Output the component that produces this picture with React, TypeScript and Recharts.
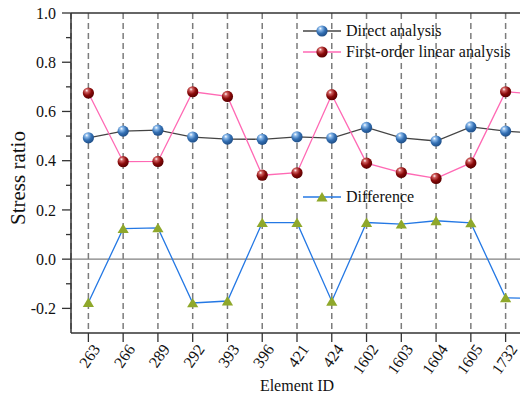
import React from 'react'
import { LineChart, Line, XAxis, YAxis, CartesianGrid, ReferenceLine, Legend } from 'recharts'

const FONT = '"Liberation Serif", "Times New Roman", serif'

const elementIds = ['263', '266', '289', '292', '393', '396', '421', '424', '1602', '1603', '1604', '1605', '1732']
// the 14th value of each series lies just past the right edge, only its line stub shows
const directAnalysis = [0.493, 0.52, 0.524, 0.496, 0.488, 0.487, 0.497, 0.492, 0.535, 0.493, 0.48, 0.537, 0.52, 0.51]
const linearAnalysis = [0.675, 0.396, 0.397, 0.68, 0.661, 0.341, 0.351, 0.668, 0.39, 0.352, 0.328, 0.391, 0.68, 0.67]
const difference = [-0.176, 0.124, 0.127, -0.178, -0.17, 0.148, 0.148, -0.171, 0.149, 0.142, 0.156, 0.147, -0.157, -0.16]
const yTicks = [-0.2, -0.1, 0, 0.1, 0.2, 0.3, 0.4, 0.5, 0.6, 0.7, 0.8, 0.9, 1.0]

const chartData = directAnalysis.map((v, i) => ({
  idx: i,
  direct: v,
  linear: linearAnalysis[i],
  diff: difference[i],
}))

const sphereDot = (gradId: string) => (props: any) => {
  const { cx, cy, index } = props
  if (cx == null || cy == null) return null
  return <circle key={`${gradId}-${index}`} cx={cx} cy={cy} r={5.6} fill={`url(#${gradId})`} />
}

const triangleDot = (props: any) => {
  const { cx, cy, index } = props
  if (cx == null || cy == null) return null
  return (
    <path
      key={`tri-${index}`}
      d={`M${cx},${cy - 5} L${cx + 5.6},${cy + 4.4} L${cx - 5.6},${cy + 4.4} Z`}
      fill="#8fa82b"
    />
  )
}

function YTick(props: any) {
  const { x, y, payload } = props
  const v = payload.value as number
  const major = Math.round(v * 10) % 2 === 0
  return (
    <g>
      <line x1={x - (major ? 9 : 5)} x2={x} y1={y} y2={y} stroke="#333" strokeWidth={1.3} />
      {major && (
        <text x={x - 15} y={y} dy="0.35em" textAnchor="end" fontSize={16} fontFamily={FONT} fill="#111">
          {v.toFixed(1)}
        </text>
      )}
    </g>
  )
}

function XTick(props: any) {
  const { x, payload } = props
  const label = elementIds[payload.value]
  if (label == null) return null
  const tx = x + 8
  const ty = 346
  return (
    <text
      x={tx}
      y={ty}
      dy="0.35em"
      textAnchor="end"
      transform={`rotate(-55, ${tx}, ${ty})`}
      fontSize={16}
      fontFamily={FONT}
      fill="#111"
    >
      {label}
    </text>
  )
}

function YLabel(props: any) {
  const { viewBox } = props
  const cx = viewBox.x + 18
  const cy = viewBox.y + viewBox.height / 2 + 5
  return (
    <text
      x={cx}
      y={cy}
      transform={`rotate(-90, ${cx}, ${cy})`}
      textAnchor="middle"
      dominantBaseline="central"
      fontSize={21}
      fontFamily={FONT}
      fill="#111"
    >
      Stress ratio
    </text>
  )
}

const legendRows: Record<string, { top: number; stroke: string; marker: string }> = {
  direct: { top: 31, stroke: '#444', marker: 'blueSphere' },
  linear: { top: 52, stroke: '#ff69b4', marker: 'redSphere' },
  diff: { top: 197, stroke: '#2478e4', marker: 'triangle' },
}

function renderLegend(props: any) {
  const payload = props.payload || []
  return (
    <div>
      {payload.map((entry: any) => {
        const row = legendRows[entry.dataKey]
        if (!row) return null
        return (
          <div
            key={entry.dataKey}
            style={{
              position: 'absolute',
              left: 303,
              top: row.top - 9,
              height: 18,
              display: 'flex',
              alignItems: 'center',
              whiteSpace: 'nowrap',
            }}
          >
            <svg width={38} height={14}>
              <line x1={0} x2={38} y1={7} y2={7} stroke={row.stroke} strokeWidth={1.3} />
              {row.marker === 'triangle' ? (
                <path d="M19,2 L24.6,11.4 L13.4,11.4 Z" fill="#8fa82b" />
              ) : (
                <circle cx={19} cy={7} r={5.6} fill={`url(#${row.marker})`} />
              )}
            </svg>
            <span style={{ marginLeft: 5, fontSize: 16, fontFamily: FONT, color: '#111', lineHeight: '18px' }}>
              {entry.value}
            </span>
          </div>
        )
      })}
    </div>
  )
}

export default function App() {
  return (
    <div style={{ position: 'fixed', left: 0, top: 0, width: 520, height: 394, overflow: 'hidden', background: '#fff' }}>
      <LineChart width={530} height={394} data={chartData} margin={{ top: 13, right: 7, bottom: 0, left: 0 }}>
        <defs>
          <radialGradient id="blueSphere" cx="38%" cy="32%" r="68%" fx="35%" fy="28%">
            <stop offset="0%" stopColor="#ffffff" />
            <stop offset="22%" stopColor="#8dbbeb" />
            <stop offset="60%" stopColor="#3470b4" />
            <stop offset="100%" stopColor="#1f4f88" />
          </radialGradient>
          <radialGradient id="redSphere" cx="38%" cy="32%" r="68%" fx="35%" fy="28%">
            <stop offset="0%" stopColor="#ffffff" />
            <stop offset="22%" stopColor="#d06060" />
            <stop offset="60%" stopColor="#8a0a0a" />
            <stop offset="100%" stopColor="#5a0000" />
          </radialGradient>
        </defs>
        <CartesianGrid horizontal={false} stroke="#7c7c7c" strokeWidth={1.5} strokeDasharray="6 4" />
        <XAxis
          dataKey="idx"
          type="number"
          domain={[-0.5, 12.5]}
          allowDataOverflow
          ticks={elementIds.map((_, i) => i)}
          interval={0}
          height={61}
          tickSize={9}
          tickMargin={0}
          tick={(p: any) => <XTick {...p} />}
          tickLine={{ stroke: '#333', strokeWidth: 1.3 }}
          axisLine={{ stroke: '#333', strokeWidth: 1.5 }}
          label={{ value: 'Element ID', position: 'insideBottom', offset: 3, fontSize: 16, fontFamily: FONT, fill: '#111' }}
        />
        <YAxis
          type="number"
          domain={[-0.3, 1.0]}
          allowDataOverflow
          ticks={yTicks}
          interval={0}
          width={71}
          tickSize={0}
          tickMargin={0}
          tickLine={false}
          tick={(p: any) => <YTick {...p} />}
          axisLine={{ stroke: '#333', strokeWidth: 1.5 }}
          label={<YLabel />}
        />
        <ReferenceLine y={0} stroke="#808080" strokeWidth={1.3} />
        <ReferenceLine y={1} stroke="#333" strokeWidth={1.5} />
        <Legend
          content={renderLegend}
          wrapperStyle={{ left: 0, top: 0, width: 0, height: 0, overflow: 'visible' }}
        />
        <Line
          dataKey="direct"
          name="Direct analysis"
          stroke="#444"
          strokeWidth={1.3}
          dot={sphereDot('blueSphere')}
          activeDot={false}
          isAnimationActive={false}
        />
        <Line
          dataKey="linear"
          name="First-order linear analysis"
          stroke="#ff69b4"
          strokeWidth={1.3}
          dot={sphereDot('redSphere')}
          activeDot={false}
          isAnimationActive={false}
        />
        <Line
          dataKey="diff"
          name="Difference"
          stroke="#2478e4"
          strokeWidth={1.3}
          dot={triangleDot}
          activeDot={false}
          isAnimationActive={false}
        />
      </LineChart>
    </div>
  )
}
